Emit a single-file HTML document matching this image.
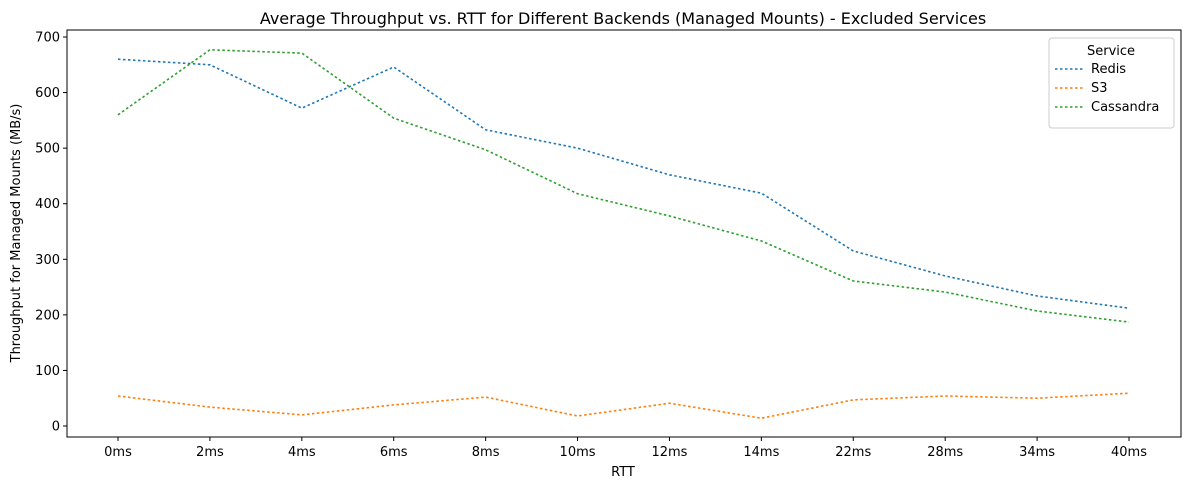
<!DOCTYPE html>
<html><head><meta charset="utf-8"><style>
body{margin:0;background:#fff;font-family:"Liberation Sans","DejaVu Sans",sans-serif;}
</style></head><body>
<svg id="chart" width="1189" height="490" xmlns="http://www.w3.org/2000/svg" font-family="DejaVu Sans, Liberation Sans, sans-serif">
<rect width="1189" height="490" fill="#fff"/>
<text x="623" y="24" text-anchor="middle" font-size="16">Average Throughput vs. RTT for Different Backends (Managed Mounts) - Excluded Services</text>
<g id="grid"></g>
<rect x="67" y="30" width="1114" height="407" fill="none" stroke="#000" stroke-width="1"/>
<text x="623" y="476" text-anchor="middle" font-size="13">RTT</text>
<text transform="translate(20,233) rotate(-90)" text-anchor="middle" font-size="13">Throughput for Managed Mounts (MB/s)</text>
<g id="legend">
<rect x="1049" y="38" width="125" height="90" rx="3" fill="#fff" stroke="#ccc"/>
<text x="1111" y="55" text-anchor="middle" font-size="13">Service</text>
</g>
</svg>
<script>
const categories=["0ms","2ms","4ms","6ms","8ms","10ms","12ms","14ms","22ms","28ms","34ms","40ms"];
const redis=[660,650,572,646,533,500,452,419,315,270,234,212];
const s3=[54,34,20,38,52,18,41,14,47,54,50,59];
const cassandra=[560,677,671,554,497,418,378,333,261,241,207,187];
const yTicks=[0,100,200,300,400,500,600,700];
const seriesNames=["Redis","S3","Cassandra"];
const colors=["#1f77b4","#ff7f0e","#2ca02c"];
const NS="http://www.w3.org/2000/svg";
const svg=document.getElementById('chart');
const X=i=>118+i*(1129-118)/(categories.length-1);
const Y=v=>426-v*(426-37)/700;
function mk(t,a,p){const e=document.createElementNS(NS,t);for(const k in a)e.setAttribute(k,a[k]);(p||svg).appendChild(e);return e;}
categories.forEach((c,i)=>{
  const t=mk('line',{x1:X(i),x2:X(i),y1:437,y2:441,stroke:'#000'});
  
  
  const l=mk('text',{x:X(i),y:456,'text-anchor':'middle','font-size':13});l.textContent=c;
  
  
});
yTicks.forEach(v=>{
  const t=mk('line',{x1:63,x2:67,y1:Y(v),y2:Y(v),stroke:'#000'});
  
  
  const l=mk('text',{x:60,y:Y(v)+4.5,'text-anchor':'end','font-size':13});l.textContent=v;
  
  
});
[redis,s3,cassandra].forEach((d,s)=>{
  const p=mk('polyline',{points:d.map((v,i)=>X(i)+','+Y(v)).join(' '),fill:'none',stroke:colors[s],'stroke-width':1.6,'stroke-dasharray':'2.5,2.5'});
  
  
});
const lg=document.getElementById('legend');
seriesNames.forEach((n,i)=>{
  const y=73+i*19;
  const l=mk('line',{x1:1055,x2:1083,y1:y-4,y2:y-4,stroke:colors[i],'stroke-width':1.6,'stroke-dasharray':'2.5,2.5'},lg);
  
  
  const t=mk('text',{x:1091,y:y,'font-size':13},lg);t.textContent=n;
  
  
});
</script>
</body></html>
